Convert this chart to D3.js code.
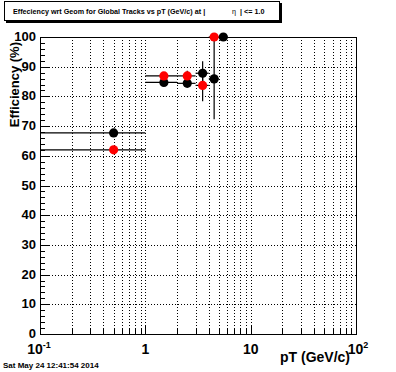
<!DOCTYPE html>
<html>
<head>
	<title> efficiency </title>
	<script src="https://d3js.org/d3.v7.min.js"></script>
	<style>
		body { margin: 0; background: #fff; }
		text { font-family: "Liberation Sans", Arial, sans-serif; }
	</style>
</head>
<body>
	<svg width="396" height="372"></svg>
	<script type="text/javascript">
		// bin centres and half widths (GeV/c)
		let ptCenters = [0.5, 1.5, 2.5, 3.5, 4.5, 5.5];
		let ptHalfWidth = [0.5, 0.5, 0.5, 0.5, 0.5, 0.5];
		// black markers
		let effBlack = [67.7, 84.7, 84.4, 87.8, 85.9, 100];
		let errBlack = [0.8, 0.6, 0.6, 4.0, 13.6, 0];
		// red markers (last bin empty)
		let effRed = [62.0, 86.9, 86.9, 83.7, 100, null];
		let errRed = [0.8, 0.6, 1.7, 5.3, 0, 0];
		let yTicks = [0, 10, 20, 30, 40, 50, 60, 70, 80, 90, 100];

		let svg = d3.select("svg");
		const pLeft = 40, pRight = 356, pTop = 37, pBottom = 334;

		let x = d3.scaleLog().domain([0.1, 100]).range([pLeft, pRight]);
		let y = d3.scaleLinear().domain([0, 100]).range([pBottom, pTop]);

		// grid
		let xGrid = [];
		[0.1, 1, 10].forEach(function(dec) {
			for (let k = 1; k <= 9; k++) { xGrid.push(dec * k); }
		});
		xGrid = xGrid.filter(function(v) { return v > 0.1; });
		svg.append("g").selectAll("line").data(xGrid).join("line")
			.attr("x1", d => Math.round(x(d)) + 0.5).attr("x2", d => Math.round(x(d)) + 0.5)
			.attr("y1", pTop).attr("y2", pBottom)
			.attr("stroke", "black").attr("stroke-dasharray", "1,2");
		svg.append("g").selectAll("line").data(yTicks.slice(1, -1)).join("line")
			.attr("x1", pLeft).attr("x2", pRight)
			.attr("y1", d => Math.round(y(d)) + 0.5).attr("y2", d => Math.round(y(d)) + 0.5)
			.attr("stroke", "black").attr("stroke-dasharray", "1,2");

		// frame
		svg.append("rect")
			.attr("x", pLeft + 0.5).attr("y", pTop + 0.5)
			.attr("width", pRight - pLeft).attr("height", pBottom - pTop)
			.attr("fill", "none").attr("stroke", "black");

		// y ticks: major every 10, minor every 2
		let yMinor = d3.range(0, 101, 2);
		svg.append("g").selectAll("line").data(yMinor).join("line")
			.attr("x1", pLeft).attr("x2", d => pLeft + (d % 10 == 0 ? 9 : 5))
			.attr("y1", d => Math.round(y(d)) + 0.5).attr("y2", d => Math.round(y(d)) + 0.5)
			.attr("stroke", "black");
		svg.append("g").selectAll("text").data(yTicks).join("text")
			.attr("x", 36).attr("y", d => y(d) + 4)
			.attr("text-anchor", "end").attr("font-size", 13).attr("font-weight", "bold")
			.text(d => d);

		// x ticks
		let xTickVals = xGrid.concat([0.1, 100]);
		svg.append("g").selectAll("line").data(xTickVals).join("line")
			.attr("x1", d => Math.round(x(d)) + 0.5).attr("x2", d => Math.round(x(d)) + 0.5)
			.attr("y1", pBottom)
			.attr("y2", d => pBottom - ([0.1, 1, 10, 100].includes(d) ? 9 : 5))
			.attr("stroke", "black");

		let xl = svg.append("g").attr("font-size", 14).attr("font-weight", "bold");
		xl.append("text").attr("x", x(0.1) - 1).attr("y", 354).attr("text-anchor", "middle")
			.html('10<tspan dy="-6" font-size="9">-1</tspan>');
		xl.append("text").attr("x", x(1)).attr("y", 354).attr("text-anchor", "middle").text("1");
		xl.append("text").attr("x", x(10)).attr("y", 354).attr("text-anchor", "middle").text("10");
		xl.append("text").attr("x", x(100) + 2).attr("y", 354).attr("text-anchor", "middle")
			.html('10<tspan dy="-6" font-size="9">2</tspan>');

		// axis titles
		svg.append("text").attr("x", 350).attr("y", 362).attr("text-anchor", "end")
			.attr("font-size", 14).attr("font-weight", "bold").text("pT (GeV/c)");
		svg.append("text").attr("transform", "translate(19,42) rotate(-90)")
			.attr("text-anchor", "end").attr("font-size", 13).attr("font-weight", "bold")
			.text("Efficiency (%)");

		// data
		function drawSeries(vals, errs, color) {
			let pts = ptCenters.map(function(c, i) {
				return { c: c, w: ptHalfWidth[i], v: vals[i], e: errs[i] };
			}).filter(d => d.v !== null);
			let g = svg.append("g");
			g.selectAll(".h").data(pts).join("line")
				.attr("x1", d => x(Math.max(0.1, d.c - d.w))).attr("x2", d => x(d.c + d.w))
				.attr("y1", d => y(d.v)).attr("y2", d => y(d.v))
				.attr("stroke", "black").attr("stroke-width", 1.2);
			g.selectAll(".v").data(pts.filter(d => d.e > 0)).join("line")
				.attr("x1", d => x(d.c)).attr("x2", d => x(d.c))
				.attr("y1", d => y(Math.min(100, d.v + d.e))).attr("y2", d => y(d.v - d.e))
				.attr("stroke", "black").attr("stroke-width", 1.2);
			g.selectAll("circle").data(pts).join("circle")
				.attr("cx", d => x(d.c)).attr("cy", d => y(d.v)).attr("r", 4.6)
				.attr("fill", color);
		}
		drawSeries(effBlack, errBlack, "black");
		drawSeries(effRed, errRed, "#ff0000");

		// title box
		svg.append("rect").attr("x", 6).attr("y", 3).attr("width", 276).attr("height", 20).attr("fill", "black");
		svg.append("rect").attr("x", 4.5).attr("y", 1.5).attr("width", 275).attr("height", 19)
			.attr("fill", "white").attr("stroke", "black");
		let tt = svg.append("g").attr("font-size", 7.2).attr("font-weight", "bold");
		tt.append("text").attr("x", 13).attr("y", 14)
			.text("Effeciency wrt Geom for Global Tracks vs pT (GeV/c) at |");
		tt.append("text").attr("x", 232).attr("y", 14).attr("font-weight", "normal").text("\u03b7");
		tt.append("text").attr("x", 240).attr("y", 14).text("| <= 1.0");

		// date stamp
		svg.append("text").attr("x", 3).attr("y", 368).attr("font-size", 8).attr("font-weight", "bold")
			.text("Sat May 24 12:41:54 2014");
	</script>
</body>
</html>
